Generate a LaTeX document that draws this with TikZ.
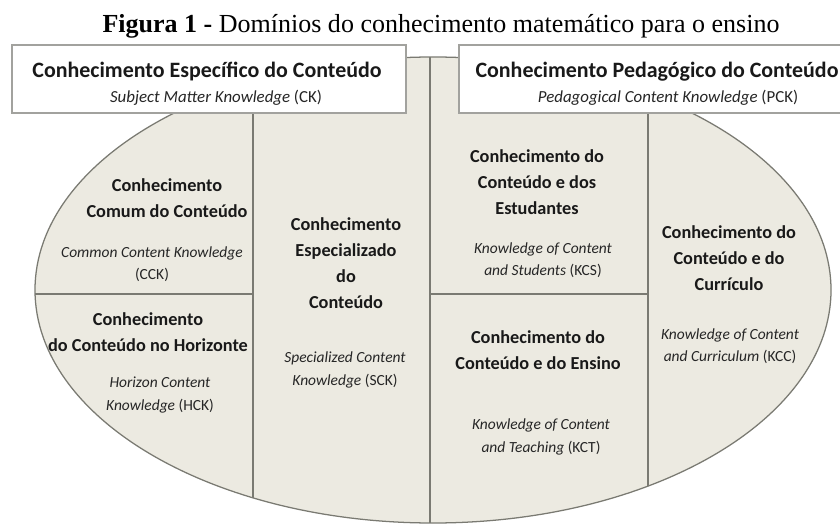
\documentclass[tikz,border=0pt]{standalone}
\usepackage{fontspec}
\setmainfont{Carlito}
\newfontfamily\capfont{Liberation Serif}
\definecolor{domfill}{HTML}{ECEAE1}
\definecolor{domline}{HTML}{7A7A72}
\definecolor{boxline}{HTML}{A2A29E}
\tikzstyle{domhead} = [align=center, 
font=\fontsize{13}{18.5}\selectfont\bfseries, 
text=black!90, 
inner sep=0pt]
\tikzstyle{domsub} = [align=center, 
font=\fontsize{11}{16}\selectfont, 
text=black!85, 
inner sep=0pt]
\tikzstyle{tophead} = [anchor=base, font=\fontsize{15.6}{18}\selectfont\bfseries, text=black!90, inner sep=0pt]
\tikzstyle{topsub} = [anchor=base, font=\fontsize{12}{14}\selectfont, text=black!85, inner sep=0pt]
\tikzstyle{topbox} = [draw=boxline, fill=white, line width=0.8pt]
\tikzstyle{divider} = [draw=domline, line width=0.9pt]

\begin{document}
\begin{tikzpicture}[x=0.025cm, y=-0.025cm]
    \useasboundingbox (0,0) rectangle (840,524);
    \clip (0,0) rectangle (840,524);

    \node (cap) [anchor=base, inner sep=0pt, font=\capfont\fontsize{18.5}{20}\selectfont] at (441,33)
        {\textbf{Figura 1 -} Domínios do conhecimento matemático para o ensino};

    % Ellipse of domains
    \fill [domfill] (433,290) ellipse [x radius=398, y radius=233];
    \begin{scope}
        \clip (433,290) ellipse [x radius=398, y radius=233];
        \draw [divider] (253,100) -- (253,540);
        \draw [divider] (430,40) -- (430,540);
        \draw [divider] (648,100) -- (648,540);
        \draw [divider] (20,294) -- (253,294);
        \draw [divider] (430,294) -- (648,294);
    \end{scope}
    \draw [domline, line width=0.9pt] (433,290) ellipse [x radius=398, y radius=233];

    % Top boxes
    \draw [topbox] (12,45) rectangle (406,113);
    \draw [topbox] (459,45) rectangle (850,113);
    \node (ck) [tophead] at (207,78) {Conhecimento Específico do Conteúdo};
    \node (cksub) [topsub] at (216,103) {\textit{Subject Matter Knowledge} (CK)};
    \node (pck) [tophead] at (657,78) {Conhecimento Pedagógico do Conteúdo};
    \node (pcksub) [topsub] at (668,103) {\textit{Pedagogical Content Knowledge} (PCK)};

    % Subject matter domains
    \node (cck) [domhead] at (167,198) {Conhecimento\\Comum do Conteúdo};
    \node (ccksub) [domsub] at (152,264) {\textit{Common Content Knowledge}\\(CCK)};
    \node (hck) [domhead] at (148,332) {Conhecimento\\do Conteúdo no Horizonte};
    \node (hcksub) [domsub] at (160,395) {\textit{Horizon Content}\\\textit{Knowledge} (HCK)};
    \node (sck) [domhead] at (346,263) {Conhecimento\\Especializado\\do\\Conteúdo};
    \node (scksub) [domsub] at (345,370) {\textit{Specialized Content}\\\textit{Knowledge} (SCK)};

    % Pedagogical domains
    \node (kcs) [domhead] at (537,182) {Conhecimento do\\Conteúdo e dos\\Estudantes};
    \node (kcssub) [domsub] at (543,260) {\textit{Knowledge of Content}\\\textit{and Students} (KCS)};
    \node (kct) [domhead] at (538,350) {Conhecimento do\\Conteúdo e do Ensino};
    \node (kctsub) [domsub] at (541,437) {\textit{Knowledge of Content}\\\textit{and Teaching} (KCT)};
    \node (kcc) [domhead] at (729,258) {Conhecimento do\\Conteúdo e do\\Currículo};
    \node (kccsub) [domsub] at (730,346) {\textit{Knowledge of Content}\\\textit{and Curriculum} (KCC)};
  \end{tikzpicture}
\end{document}
